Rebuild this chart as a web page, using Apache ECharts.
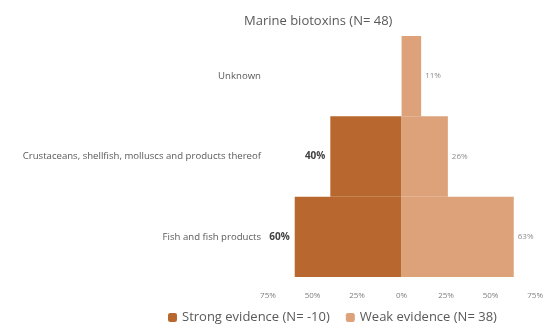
<!DOCTYPE html>
<html><head><meta charset="utf-8">
<script src="https://cdn.jsdelivr.net/npm/echarts@6/dist/echarts.min.js"></script>
<style>html,body{margin:0;padding:0;background:#fff}#c{width:546px;height:336px}</style>
</head><body><div id="c"></div>
<script>
const categories = ['Unknown', 'Crustaceans, shellfish, molluscs and products thereof', 'Fish and fish products'];
const strongValues = [0, -40, -60];
const weakValues = [11, 26, 63];
const xTicks = [-75, -50, -25, 0, 25, 50, 75];
const titleText = 'Marine biotoxins (N= 48)';
const strongName = 'Strong evidence (N= -10)';
const weakName = 'Weak evidence (N= 38)';

const chart = echarts.init(document.getElementById('c'));
chart.setOption({
  animation: false,
  title: { text: titleText, left: 239, top: 10, textStyle: { fontFamily: 'Open Sans', fontSize: 13, fontWeight: 'normal', color: '#595959' } },
  legend: {
    bottom: 7, left: 163, itemWidth: 9, itemHeight: 9, itemGap: 16,
    textStyle: { fontFamily: 'Open Sans', fontSize: 13, color: '#595959' },
    data: [strongName, weakName]
  },
  grid: { left: 268, right: 9, top: 36, bottom: 59, containLabel: false },
  xAxis: {
    type: 'value', min: xTicks[0], max: xTicks[xTicks.length - 1], interval: 25,
    axisLine: { show: false }, axisTick: { show: false }, splitLine: { show: false },
    axisLabel: { formatter: v => Math.abs(v) + '%', fontFamily: 'Open Sans', fontSize: 8, color: '#7f7f7f', margin: 15 }
  },
  yAxis: {
    type: 'category', data: categories, inverse: true,
    axisLine: { show: false }, axisTick: { show: false },
    axisLabel: { fontFamily: 'Open Sans', fontSize: 9.6, color: '#595959', margin: 7 }
  },
  series: [
    {
      name: strongName, type: 'bar', stack: 's', data: strongValues, barCategoryGap: 0,
      itemStyle: { color: '#B8672E' },
      label: { show: true, position: 'left', distance: 5, formatter: p => p.value === 0 ? '' : Math.abs(p.value) + '%', fontFamily: 'Open Sans', fontSize: 10, fontWeight: 'bold', color: '#404040' }
    },
    {
      name: weakName, type: 'bar', stack: 's', data: weakValues, barCategoryGap: 0,
      itemStyle: { color: '#DDA27A' },
      label: { show: true, position: 'right', distance: 4, formatter: p => p.value + '%', fontFamily: 'Open Sans', fontSize: 8, color: '#8c8c8c' }
    }
  ]
});
</script></body></html>
